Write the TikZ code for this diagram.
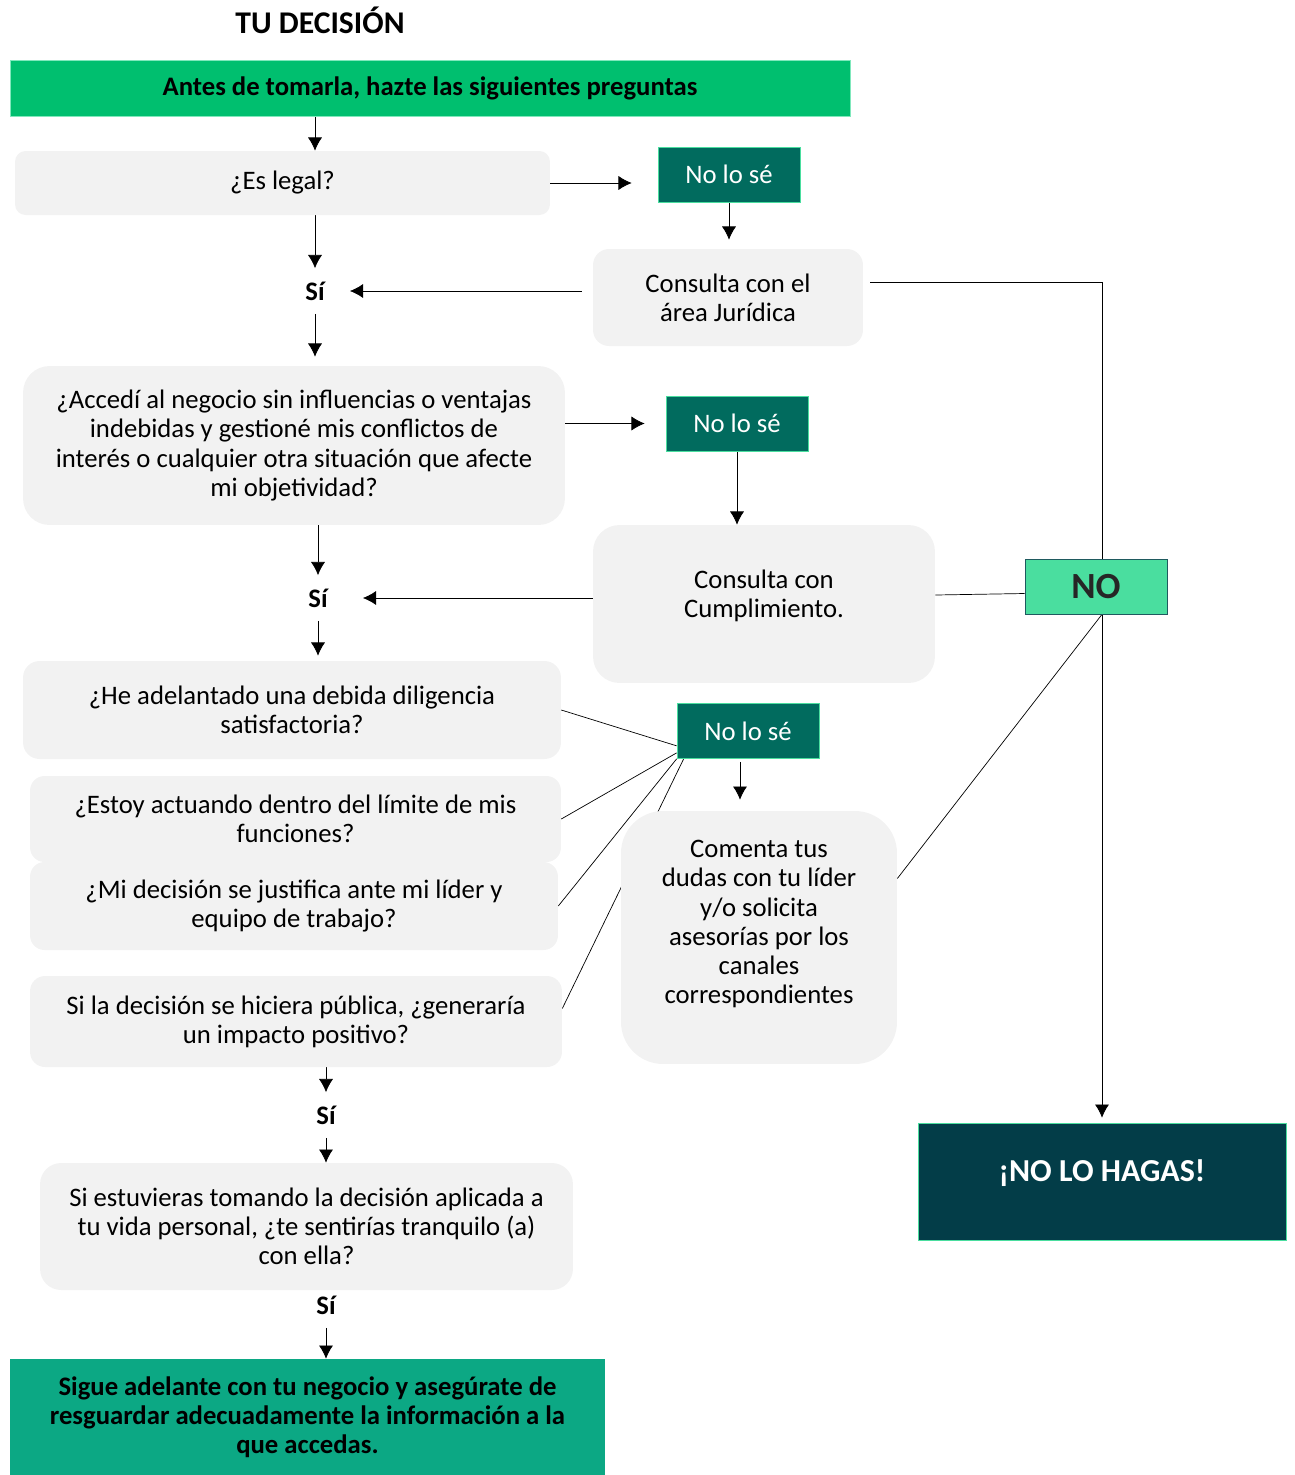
\documentclass[tikz,border=0pt]{standalone}
\usepackage{fontspec}
\setmainfont{Carlito}
\usetikzlibrary{positioning,arrows.meta,backgrounds}
\definecolor{verdeTop}{RGB}{0,191,111}
\definecolor{verdeFin}{RGB}{12,168,132}
\definecolor{tealNo}{RGB}{1,107,94}
\definecolor{verdeClaro}{RGB}{74,222,159}
\definecolor{azulHagas}{RGB}{3,61,72}
\definecolor{grisCaja}{RGB}{242,242,242}
\definecolor{bordeNo}{RGB}{31,90,95}
\newcommand\textoCaja{\fontsize{15.2}{16.6}\selectfont}
\tikzset{%
  >={Latex[length=7.5pt,width=8pt]},
  conector/.style={line width=0.7pt},
  pregunta/.style={fill=grisCaja, rounded corners=#1, align=center,
    inner sep=0pt, font=\textoCaja},
  nolose/.style={fill=tealNo, draw=verdeClaro, text=white, inner sep=0pt,
    minimum width=2.84cm, minimum height=1.1cm, font=\textoCaja},
  si/.style={font=\bfseries\textoCaja, inner sep=0pt, minimum height=0.9cm},
  cajaverde/.style={fill=#1, align=center, inner sep=0pt,
    font=\bfseries\fontsize{15.2}{16.6}\selectfont}
}

\begin{document}
\begin{tikzpicture}[x=0.02cm,y=-0.02cm]
  \useasboundingbox (0,0) rectangle (1295,1475);

  %% title and start
  \node[font=\bfseries\fontsize{18}{21}\selectfont] (titulo) at (320,20) {TU DECISIÓN};
  \node[cajaverde=verdeTop, draw=verdeClaro!70, minimum width=16.8cm,
    minimum height=1.12cm] (antes) at (430,88)
    {Antes de tomarla, hazte las siguientes preguntas};

  %% first question
  \node[pregunta=0.21cm, minimum width=10.7cm, minimum height=1.28cm] (legal)
    at (282.5,183) {¿Es legal?};
  \node[nolose] (nlsA) at (729,174.5) {No lo sé};
  \node[pregunta=0.32cm, minimum width=5.4cm, minimum height=1.94cm] (jur)
    at (728,297.5) {Consulta con el\\área Jurídica};
  \node[si] (siA) at (315,291) {Sí};

  %% second question
  \node[pregunta=0.53cm, minimum width=10.84cm, minimum height=3.18cm] (acc)
    at (294,445.5) {¿Accedí al negocio sin influencias o ventajas\\indebidas y
    gestioné mis conflictos de\\interés o cualquier otra situación que afecte\\mi objetividad?};
  \node[nolose] (nlsB) at (737,423.5) {No lo sé};
  \node[pregunta=0.53cm, minimum width=6.84cm, minimum height=3.16cm,
    text depth=0.4cm] (cum) at (764,604) {Consulta con\\Cumplimiento.};
  \node[si] (siB) at (318,598) {Sí};

  %% group of questions
  \node[pregunta=0.33cm, minimum width=10.76cm, minimum height=1.96cm] (dil)
    at (292,710) {¿He adelantado una debida diligencia\\satisfactoria?};
  \node[pregunta=0.29cm, minimum width=10.62cm, minimum height=1.72cm] (lim)
    at (295.5,819) {¿Estoy actuando dentro del límite de mis\\funciones?};
  \node[pregunta=0.29cm, minimum width=10.56cm, minimum height=1.76cm] (jus)
    at (294,906) {¿Mi decisión se justifica ante mi líder y\\equipo de trabajo?};
  \node[pregunta=0.3cm, minimum width=10.64cm, minimum height=1.82cm] (pub)
    at (296,1021.5) {Si la decisión se hiciera pública, ¿generaría\\un impacto positivo?};
  \node[nolose] (nlsC) at (748,731) {No lo sé};
  \node[pregunta=0.84cm, minimum width=5.52cm, minimum height=5.06cm,
    text depth=0.62cm] (com)
    at (759,937.5) {Comenta tus\\dudas con tu líder\\y/o solicita\\asesorías por los\\canales\\correspondientes};

  %% right column
  \node[fill=verdeClaro, draw=bordeNo, inner sep=0pt, minimum width=2.84cm,
    minimum height=1.1cm, text=black!85, font=\bfseries\fontsize{21}{24}\selectfont]
    (no) at (1096,586.5) {NO};
  \node[fill=azulHagas, draw=verdeClaro, text=white, inner sep=0pt,
    minimum width=7.36cm, minimum height=2.34cm, text depth=0.45cm,
    font=\bfseries\fontsize{18.2}{21}\selectfont] (hagas) at (1102,1181.5) {¡NO LO HAGAS!};

  %% last question and end
  \node[si] (siC) at (326,1115) {Sí};
  \node[pregunta=0.42cm, minimum width=10.66cm, minimum height=2.54cm] (tran)
    at (306.5,1226.5) {Si estuvieras tomando la decisión aplicada a\\tu vida personal,
    ¿te sentirías tranquilo (a)\\con ella?};
  \node[si] (siD) at (326,1305) {Sí};
  \node[cajaverde=verdeFin, minimum width=11.9cm, minimum height=2.32cm] (fin)
    at (307.5,1417) {Sigue adelante con tu negocio y asegúrate de\\resguardar
    adecuadamente la información a la\\que accedas.};

  %% connectors
  \begin{scope}[on background layer, conector]
    \draw[->] (antes.south -| siA) -- (legal.north -| siA);
    \draw[->, shorten >=0.52cm] (legal.east) -- (legal.east -| nlsA.west);
    \draw[->, shorten >=0.18cm] (nlsA.south) -- (nlsA.south |- jur.north);
    \draw[->, shorten <=0.22cm, shorten >=0.5cm] (jur.west |- siA) -- (siA.east);
    \draw[->] (legal.south -| siA) -- (siA.north);
    \draw[->, shorten >=0.18cm] (siA.south) -- (acc.north -| siA);

    \draw[->, shorten >=0.42cm] (acc.east |- nlsB) -- (nlsB.west);
    \draw[->] (nlsB.south) -- (nlsB.south |- cum.north);
    \draw[->, shorten >=0.7cm] (cum.west |- siB) -- (siB.east);
    \draw[->] (acc.south -| siB) -- (siB.north);
    \draw[->, shorten >=0.1cm] (siB.south) -- (dil.north -| siB);

    \draw (dil.east) -- ([yshift=0.26cm]nlsC.south west);
    \draw (lim.east) -- ([yshift=0.12cm]nlsC.south west);
    \draw (jus.east) -- (nlsC.south west);
    \draw ([yshift=0.26cm]pub.east) -- ([xshift=0.14cm]nlsC.south west);
    \draw[->, shorten <=0.06cm, shorten >=0.22cm] ([xshift=-0.16cm]nlsC.south)
      -- ([xshift=-0.16cm]nlsC.south |- com.north);

    \draw ([xshift=0.14cm,yshift=0.31cm]jur.east) -| (no.north -| hagas);
    \draw ([yshift=0.18cm]cum.east) -- ([yshift=-0.14cm]no.west);
    \draw ([yshift=1.18cm]com.east) -- (no.south -| hagas);
    \draw[->, shorten >=0.1cm] (no.south -| hagas) -- (hagas.north);

    \draw[->] (pub.south -| siC) -- (siC.north);
    \draw[->] (siC.south) -- (tran.north -| siC);
    \draw[->] (siD.south) -- (fin.north -| siD);
  \end{scope}
\end{tikzpicture}
\end{document}
